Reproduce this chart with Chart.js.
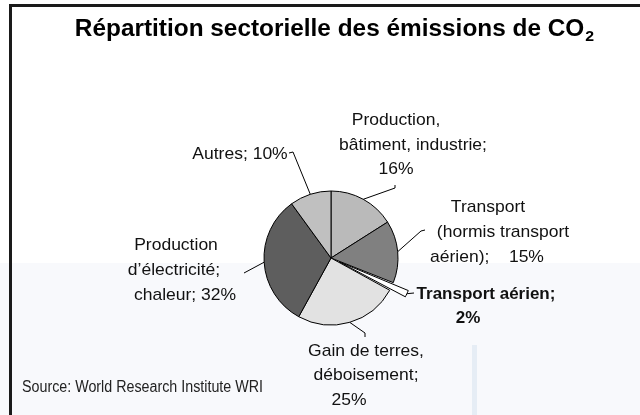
<!DOCTYPE html>
<html><head><meta charset="utf-8">
<script src="https://cdn.jsdelivr.net/npm/chart.js@4.4.0/dist/chart.umd.min.js"></script>
<style>html,body{margin:0;padding:0;background:#fff;}#wrap{width:640px;height:415px;position:relative;}</style>
</head><body><div id="wrap"><canvas id="c" width="640" height="415"></canvas></div>
<script>
const categories = ["Production, bâtiment, industrie", "Transport (hormis transport aérien)", "Transport aérien", "Gain de terres, déboisement", "Production d’électricité; chaleur", "Autres"];
const shares = [16, 15, 2, 25, 32, 10];
const sliceColors = ["#bababa", "#808080", "#ffffff", "#e2e2e2", "#5e5e5e", "#c0c0c0"];
const labelLines = [
  ["Production,", "bâtiment, industrie;", "16%"],
  ["Transport", "(hormis transport", "aérien);    15%"],
  ["Transport aérien;", "2%"],
  ["Gain de terres,", "déboisement;", "25%"],
  ["Production", "d’électricité;", "chaleur; 32%"],
  ["Autres; 10%"]
];
const titleText = "Répartition sectorielle des émissions de CO";
const sourceText = "Source: World Research Institute WRI";

// layout for annotation text (positions only)
const labelLayout = [
  {lines:[[396,120],[413,145],[396,169]], leader:[[395,188],[395,185]], bold:false},
  {lines:[[488,207],[503,232],[487,257]], leader:[[421,231],[425,230]], bold:false},
  {lines:[[486,294],[468,318]], leader:[[414,293]], bold:true},
  {lines:[[366,351],[366,375],[349,400]], leader:[[365,333],[365,337]], bold:false},
  {lines:[[176,245],[174,270],[185,295]], leader:[[244,273]], bold:false},
  {lines:[[240,154]], leader:[[293,152],[289,153]], bold:false}
];

function stretchedText(ctx, text, x, y, sx, align){
  const w = ctx.measureText(text).width * sx;
  let left = x;
  if (align === 'center') left = x - w/2;
  ctx.save();
  ctx.textAlign = 'left';
  ctx.translate(left, y);
  ctx.scale(sx, 1);
  ctx.fillText(text, 0, 0);
  ctx.restore();
  return w;
}

const decor = {
  id:'decor',
  beforeDraw(chart){
    const ctx = chart.ctx;
    ctx.save();
    ctx.fillStyle = '#ffffff'; ctx.fillRect(0,0,640,415);
    ctx.fillStyle = '#f8f9fc'; ctx.fillRect(0,263,640,152);
    ctx.fillStyle = '#e6edf5'; ctx.fillRect(472,345,5,70);
    ctx.fillStyle = '#1a1a1a';
    ctx.fillRect(9,4,631,3);
    ctx.fillRect(9,4,3,411);
    ctx.restore();
  },
  afterDraw(chart){
    const ctx = chart.ctx;
    const meta = chart.getDatasetMeta(0);
    ctx.save();
    // title
    ctx.fillStyle = '#000';
    ctx.textBaseline = 'middle';
    const sx = 1.06;
    ctx.font = 'bold 23px "Liberation Sans", Arial, sans-serif';
    const tw = ctx.measureText(titleText).width * sx;
    ctx.font = 'bold 15px "Liberation Sans", Arial, sans-serif';
    const sw = ctx.measureText('2').width * sx;
    const tx = 334 - (tw + sw)/2;
    ctx.font = 'bold 23px "Liberation Sans", Arial, sans-serif';
    stretchedText(ctx, titleText, tx, 30, sx, 'left');
    ctx.font = 'bold 15px "Liberation Sans", Arial, sans-serif';
    stretchedText(ctx, '2', tx + tw + 1, 37, sx, 'left');
    // source
    ctx.font = '16px "Liberation Sans", Arial, sans-serif';
    ctx.fillStyle = '#222';
    const srcW = ctx.measureText(sourceText).width;
    stretchedText(ctx, sourceText, 22, 388, 241 / srcW, 'left');
    // labels and leaders
    ctx.strokeStyle = '#000'; ctx.lineWidth = 1;
    meta.data.forEach((arc, i) => {
      const p = arc.getProps(['x','y','startAngle','endAngle','outerRadius','circumference'], true);
      const mid = (p.startAngle + p.endAngle)/2;
      const off = (arc.options.offset || 0) / 4;
      const fix = 1 - Math.sin(Math.min(Math.PI, p.circumference || 0));
      const r = p.outerRadius + off + off * fix;
      const px = p.x + Math.cos(mid)*r, py = p.y + Math.sin(mid)*r;
      const L = labelLayout[i];
      ctx.beginPath(); ctx.moveTo(px, py);
      L.leader.forEach(pt => ctx.lineTo(pt[0], pt[1]));
      ctx.stroke();
      ctx.fillStyle = '#111';
      ctx.font = (L.bold ? 'bold 16.5px' : '17px') + ' "Liberation Sans", Arial, sans-serif';
      labelLines[i].forEach((t, j) => stretchedText(ctx, t, L.lines[j][0], L.lines[j][1], 1.03, 'center'));
    });
    ctx.restore();
  }
};

new Chart(document.getElementById('c'), {
  type: 'pie',
  data: {
    labels: categories,
    datasets: [{
      data: shares,
      backgroundColor: sliceColors,
      borderColor: '#000',
      borderWidth: 1,
      offset: [0, 0, 36, 0, 0, 0],
      radius: 67
    }]
  },
  options: {
    responsive: false,
    animation: false,
    rotation: 0,
    layout: { padding: { left: 231, right: 209, top: 158, bottom: 57 } },
    plugins: { legend: { display: false }, tooltip: { enabled: false }, title: { display: false } }
  },
  plugins: [decor]
});
</script>
</body></html>
